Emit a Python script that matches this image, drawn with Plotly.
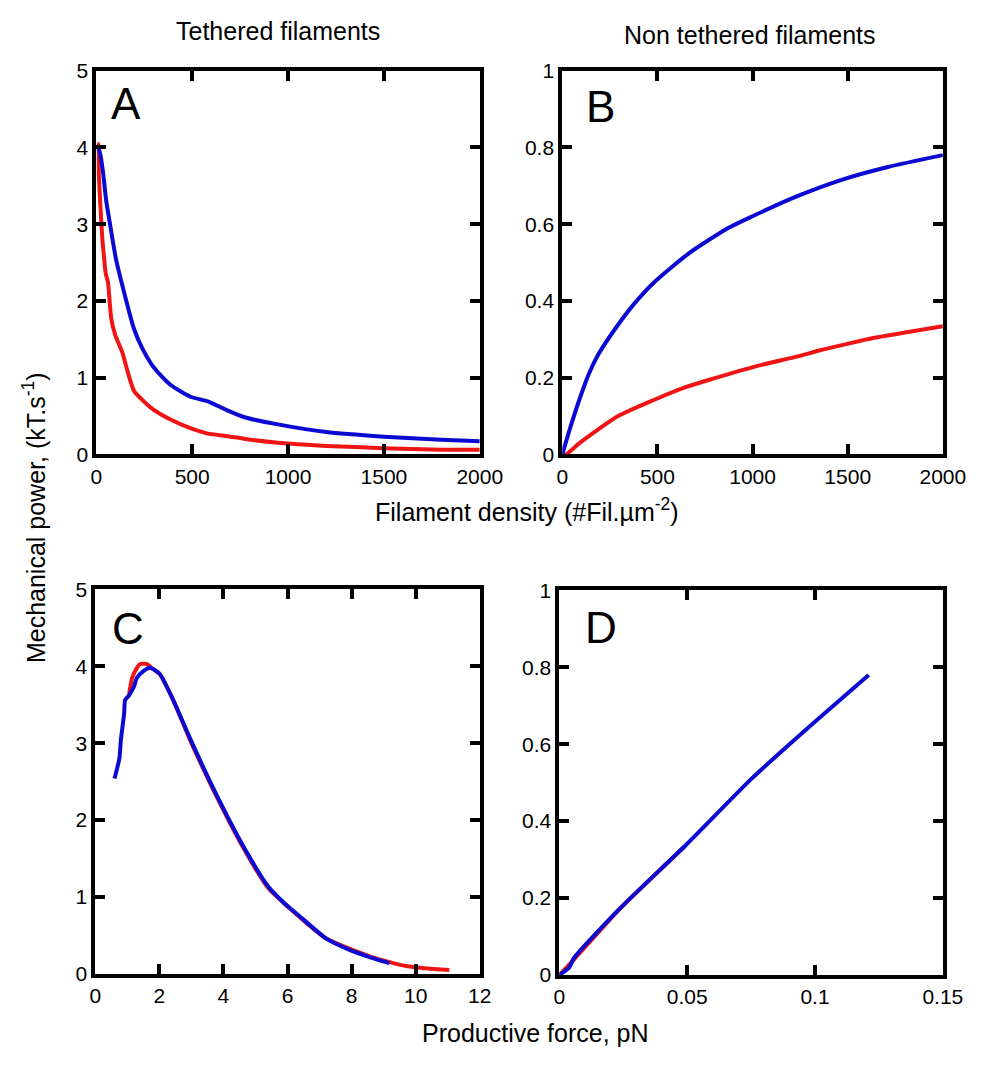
import plotly.graph_objects as go

# ---- Data ----
# Panel A: tethered filaments, power vs density
xA_blue = [10, 20, 35, 52, 69, 103, 137, 196, 240, 289, 340, 390, 491, 582, 677, 778, 947, 1200, 1500, 1800, 2000]
yA_blue = [4.0, 3.92, 3.68, 3.30, 3.04, 2.54, 2.19, 1.64, 1.38, 1.17, 1.02, 0.90, 0.75, 0.69, 0.58, 0.48, 0.39, 0.29, 0.23, 0.19, 0.17]
xA_red = [5, 10, 13.5, 22, 32, 40, 49, 61, 78, 98, 137, 162, 196, 240, 289, 390, 491, 582, 677, 778, 947, 1200, 1500, 1800, 2000]
yA_red = [4.05, 4.04, 3.64, 3.21, 2.79, 2.58, 2.36, 2.24, 1.77, 1.56, 1.32, 1.09, 0.83, 0.71, 0.60, 0.45, 0.34, 0.27, 0.24, 0.20, 0.15, 0.11, 0.08, 0.06, 0.06]

# Panel B: non tethered filaments, power vs density
xB_blue = [0, 44, 95, 140, 189, 282, 384, 486, 665, 861, 997, 1235, 1464, 1711, 2000]
yB_blue = [0, 0.073, 0.15, 0.21, 0.26, 0.33, 0.396, 0.45, 0.524, 0.587, 0.62, 0.673, 0.715, 0.749, 0.78]
xB_red = [0, 20, 95, 291, 478, 648, 784, 1022, 1243, 1345, 1515, 1633, 2000]
yB_red = [0, 0.0, 0.031, 0.099, 0.141, 0.175, 0.196, 0.23, 0.256, 0.27, 0.29, 0.303, 0.334]

# Panel C: tethered, power vs productive force
xC_red = [1.05, 1.15, 1.3, 1.4, 1.6, 1.75, 2.01, 2.41, 2.97, 3.4, 3.83, 4.58, 5.39, 6.35, 7.21, 8.63, 9.74, 11.05]
yC_red = [3.62, 3.85, 3.98, 4.03, 4.03, 3.98, 3.90, 3.58, 3.03, 2.64, 2.27, 1.67, 1.12, 0.75, 0.46, 0.22, 0.10, 0.05]
xC_blue = [0.60, 0.75, 0.80, 0.90, 0.93, 1.05, 1.20, 1.30, 1.51, 1.71, 2.01, 2.41, 2.97, 3.4, 3.83, 4.58, 5.39, 5.9, 6.35, 7.21, 7.9, 8.63, 9.18]
yC_blue = [2.54, 2.80, 3.05, 3.39, 3.56, 3.62, 3.73, 3.85, 3.94, 3.98, 3.90, 3.58, 3.05, 2.66, 2.29, 1.69, 1.14, 0.92, 0.76, 0.46, 0.32, 0.21, 0.14]

# Panel D: non tethered, power vs productive force
xD_red = [0, 0.0057, 0.0234, 0.049]
yD_red = [0, 0.04, 0.17, 0.334]
xD_blue = [0, 0.0038, 0.0057, 0.0234, 0.050, 0.0753, 0.0994, 0.121]
yD_blue = [0, 0.019, 0.044, 0.171, 0.341, 0.511, 0.655, 0.78]

xticks_density = [0, 500, 1000, 1500, 2000]
xticks_forceC = [0, 2, 4, 6, 8, 10, 12]
xticks_forceD = [0, 0.05, 0.1, 0.15]
yticks_teth = [0, 1, 2, 3, 4, 5]
yticks_non = [0, 0.2, 0.4, 0.6, 0.8, 1]

RED = "#f01414"
BLUE = "#0a0ad2"
W, H = 994, 1074
FONT = "Liberation Sans, Arial, sans-serif"

fig = go.Figure()

def add(x, y, color, xa, ya):
    fig.add_trace(go.Scatter(x=x, y=y, mode="lines", line=dict(color=color, width=4, shape="spline", smoothing=0.6),
                             xaxis=xa, yaxis=ya, showlegend=False, hoverinfo="skip"))

add(xA_red, yA_red, RED, "x", "y")
add(xA_blue, yA_blue, BLUE, "x", "y")
add(xB_red, yB_red, RED, "x2", "y2")
add(xB_blue, yB_blue, BLUE, "x2", "y2")
add(xC_red, yC_red, RED, "x3", "y3")
add(xC_blue, yC_blue, BLUE, "x3", "y3")
add(xD_red, yD_red, RED, "x4", "y4")
add(xD_blue, yD_blue, BLUE, "x4", "y4")

def ax(domain, rng, ticks, anchor):
    return dict(domain=domain, range=rng, tickvals=ticks, showgrid=False, zeroline=False,
                showline=True, linecolor="black", linewidth=4, mirror="ticks",
                ticks="inside", ticklen=10, tickwidth=3.5, tickcolor="black",
                tickfont=dict(family=FONT, size=21, color="black"), anchor=anchor,
                fixedrange=True)

def px(v):
    return v / W

def py(v):
    return 1 - v / H

fig.update_layout(
    width=W, height=H, margin=dict(l=0, r=0, t=0, b=0),
    paper_bgcolor="white", plot_bgcolor="white",
    xaxis=ax([px(93), px(488)], [0, 2000], xticks_density, "y"),
    yaxis=ax([py(452), py(60)], [0, 5], yticks_teth, "x"),
    xaxis2=ax([px(573), px(965)], [0, 2000], xticks_density, "y2"),
    yaxis2=ax([py(452), py(60)], [0, 1], yticks_non, "x2"),
    xaxis3=ax([px(92), px(488)], [0, 12], xticks_forceC, "y3"),
    yaxis3=ax([py(983), py(590)], [0, 5], yticks_teth, "x3"),
    xaxis4=ax([px(570), px(965)], [0, 0.15], xticks_forceD, "y4"),
    yaxis4=ax([py(984), py(591)], [0, 1], yticks_non, "x4"),
)

def note(text, x, y, size, angle=0):
    fig.add_annotation(text=text, x=px(x), y=py(y), xref="paper", yref="paper",
                       xanchor="center", yanchor="middle", showarrow=False, textangle=angle,
                       font=dict(family=FONT, size=size, color="black"))

note("Tethered filaments", 280, 19, 25)
note("Non tethered filaments", 766, 24, 25)
note("Filament density (#Fil.µm<sup>-2</sup>)", 537, 509, 25)
note("Productive force, pN", 545, 1043, 25)
note("Mechanical power, (kT.s<sup>-1</sup>)", 29, 517, 25, angle=-90)
note("A", 124, 93, 44)
note("B", 612, 97, 44)
note("C", 126, 630, 44)
note("D", 613, 629, 44)

fig.write_html("out.html", post_script="document.body.style.margin='0';document.body.style.padding='0';")
